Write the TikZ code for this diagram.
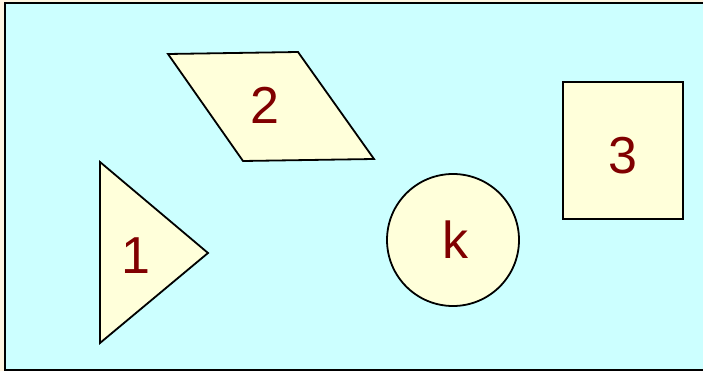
\documentclass[tikz,border=0pt]{standalone}
\usepackage{fontspec}
\setmainfont{Liberation Sans}
\definecolor{bgcyan}{RGB}{204,255,255}
\definecolor{shapefill}{RGB}{255,255,218}
\definecolor{labelred}{RGB}{128,0,0}
\definecolor{margincol}{RGB}{255,245,225}
\tikzset{
  shapeline/.style={draw=black, line width=1.8pt, fill=shapefill, line join=miter},
  lbl/.style={inner sep=0pt, text=labelred, font=\fontsize{52}{62}\selectfont}
}
\begin{document}
\begin{tikzpicture}[x=1pt,y=-1pt]
\useasboundingbox (0,0) rectangle (703,371);
\fill[margincol] (0,0) rectangle (703,371);
\draw[fill=bgcyan, line width=2pt] (5,3) rectangle (710,369.5);
% triangle
\draw[shapeline] (100,162) -- (208,253) -- (100,343) -- cycle;
% parallelogram
\draw[shapeline] (168,54) -- (298,52) -- (374,159) -- (243,161) -- cycle;
% circle
\draw[shapeline] (453,240) circle[radius=66];
% square
\draw[shapeline] (563,82) rectangle (683,219);
\node[lbl] (n1) at (136,256) {1};
\node[lbl] (n2) at (265,105) {2};
\node[lbl] (nk) at (455,240) {k};
\node[lbl] (n3) at (623,156) {3};
\end{tikzpicture}
\end{document}
